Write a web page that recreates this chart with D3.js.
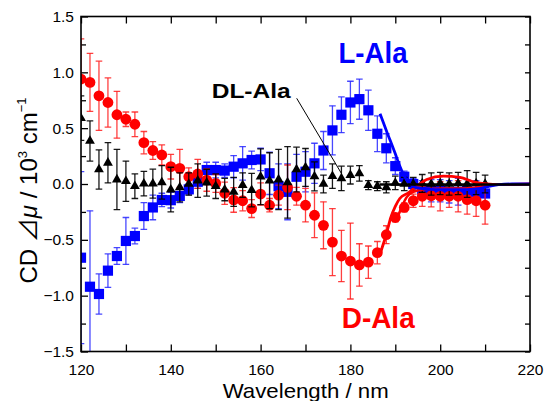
<!DOCTYPE html>
<html>
<head>
<meta charset="utf-8">
<script src="https://cdn.jsdelivr.net/npm/d3@7"></script>
<style>
	body { margin: 0; background: #fff; }
	text { font-family: "Liberation Sans", Arial, sans-serif; }
</style>
</head>
<body>
<div class="cd_chart"></div>
<script>
// wavelengths (nm) shared by all three measured series
var wavelengths = [120, 122, 124, 126, 128, 130, 132, 134, 136, 138,
	140, 142, 144, 146, 148, 150, 152, 154, 156, 158,
	160, 162, 164, 166, 168, 170, 172, 174, 176, 178,
	180, 182, 184, 186, 188, 190, 192, 194, 196, 198,
	200, 202, 204, 206, 208, 210];

// D-Ala (red circles)
var dAla = [0.94, 0.91, 0.79, 0.73, 0.62, 0.58, 0.535, 0.37, 0.30, 0.26,
	0.155, 0.14, 0.065, 0.09, 0.035, 0.005, -0.083, -0.143, -0.15, -0.22,
	-0.09, -0.19, -0.10, -0.03, -0.11, -0.19, -0.28, -0.37, -0.52, -0.645,
	-0.69, -0.725, -0.70, -0.615, -0.454, -0.30, -0.21, -0.15, -0.11, -0.105,
	-0.11, -0.11, -0.11, -0.14, -0.15, -0.19];
var dAlaErr = [0.36, 0.26, 0.31, 0.22, 0.21, 0.065, 0.11, 0.10, 0.08, 0.09,
	0.11, 0.17, 0.08, 0.13, 0.10, 0.08, 0.10, 0.11, 0.09, 0.08,
	0.10, 0.06, 0.09, 0.20, 0.08, 0.15, 0.20, 0.21, 0.30, 0.23,
	0.34, 0.19, 0.145, 0.10, 0.08, 0.04, 0.04, 0.06, 0.09, 0.10,
	0.13, 0.10, 0.14, 0.13, 0.14, 0.17];

// L-Ala (blue squares)
var lAla = [-0.66, -0.92, -0.985, -0.776, -0.645, -0.51, -0.466, -0.287, -0.21, -0.143,
	-0.145, -0.107, -0.048, 0.02, 0.125, 0.125, 0.12, 0.155, 0.185, 0.215,
	0.22, 0.096, -0.02, -0.07, 0.065, 0.11, 0.185, 0.30, 0.48, 0.62,
	0.73, 0.76, 0.66, 0.45, 0.32, 0.16, 0.065, 0.0, -0.05, -0.06,
	-0.06, -0.07, -0.07, -0.06, -0.07, -0.085];
var lAlaErr = [0.77, 0.68, 0.18, 0.15, 0.075, 0.21, 0.07, 0.12, 0.11, 0.06,
	0.07, 0.06, 0.05, 0.06, 0.07, 0.07, 0.06, 0.10, 0.15, 0.08,
	0.10, 0.19, 0.20, 0.25, 0.20, 0.18, 0.18, 0.17, 0.22, 0.16,
	0.19, 0.18, 0.18, 0.16, 0.13, 0.075, 0.05, 0.05, 0.08, 0.10,
	0.10, 0.10, 0.12, 0.10, 0.10, 0.08];

// DL-Ala (black triangles)
var dlAla = [0.59, 0.385, 0.13, 0.19, 0.04, 0.025, -0.02, 0.003, 0.003, 0.015,
	-0.05, -0.03, 0.0, 0.03, 0.012, -0.02, -0.05, -0.07, -0.01, -0.055,
	0.065, 0.03, 0.04, 0.015, 0.13, 0.148, 0.068, 0.0, 0.07, 0.05,
	0.08, 0.095, -0.01, -0.02, -0.03, 0.01, 0.0, 0.0, 0.005, 0.0,
	0.005, 0.0, 0.005, 0.0, 0.005, 0.0];
var dlAlaErr = [0.20, 0.18, 0.175, 0.18, 0.27, 0.18, 0.11, 0.11, 0.13, 0.15,
	0.20, 0.13, 0.10, 0.15, 0.12, 0.11, 0.10, 0.13, 0.11, 0.15,
	0.25, 0.25, 0.27, 0.32, 0.20, 0.17, 0.13, 0.08, 0.11, 0.11,
	0.08, 0.07, 0.04, 0.04, 0.05, 0.06, 0.06, 0.06, 0.08, 0.10,
	0.10, 0.10, 0.10, 0.12, 0.10, 0.08];

// calculated curves [wavelength, value]
var redFitUpper = [[186.4, -0.65], [188, -0.45], [189, -0.3], [190, -0.2], [191, -0.13],
	[192.9, -0.08], [194.8, -0.02], [197, 0.04], [200.7, 0.07], [204.4, 0.06],
	[207.4, 0.02], [210.4, 0.0], [213, -0.005], [220, 0.0]];
var redFitLower = [[190.5, -0.3], [191.5, -0.2], [192.5, -0.12], [194, -0.07], [197, -0.045],
	[201, -0.04], [205, -0.04], [209, -0.025], [212, -0.005], [220, 0.0]];
var blueFit = [[186.6, 0.63], [188, 0.48], [190, 0.27], [191, 0.16], [192, 0.07],
	[193, 0.01], [194.5, -0.03], [197, -0.045], [201, -0.05], [206, -0.05],
	[209, -0.04], [211, -0.02], [213, -0.005], [216, 0.0], [220, 0.0]];
var blackFit = [[186.5, -0.005], [220, -0.005]];

// axis ticks
var xLabelTicks = [120, 140, 160, 180, 200, 220];
var xTicks = [130, 150, 170, 190, 210];
var yLabelTicks = [-1.5, -1.0, -0.5, 0.0, 0.5, 1.0, 1.5];
var yMinorTicks = [-1.25, -0.75, -0.25, 0.25, 0.75, 1.25];

var width = 553,
	height = 401;
var margin = {top: 16.5, right: 23, bottom: 49.5, left: 81};

var svg = d3.select(".cd_chart").append("svg")
	.attr("width", width)
	.attr("height", height);

var x = d3.scaleLinear().domain([120, 220]).range([margin.left, width - margin.right]);
var y = d3.scaleLinear().domain([-1.5, 1.5]).range([height - margin.bottom, margin.top]);

var fmt = d3.format(".1f");

// axes, ticks pointing inwards
function strip(g) { g.select(".domain").remove(); }

svg.append("g")
	.attr("transform", "translate(0," + y(-1.5) + ")")
	.call(d3.axisBottom(x).tickValues(xLabelTicks.concat(xTicks)).tickSize(-7).tickPadding(12)
		.tickFormat(function(d) { return xLabelTicks.indexOf(d) >= 0 ? d : ""; }))
	.call(strip)
	.selectAll("text").attr("font-size", 15.5).attr("fill", "#000")
	.attr("font-family", "Liberation Sans, Arial, sans-serif");

svg.append("g")
	.attr("transform", "translate(0," + y(1.5) + ")")
	.call(d3.axisTop(x).tickValues(xLabelTicks.concat(xTicks)).tickSize(-7).tickFormat(""))
	.call(strip);

svg.append("g")
	.attr("transform", "translate(" + x(120) + ",0)")
	.call(d3.axisLeft(y).tickValues(yLabelTicks).tickSize(-7).tickPadding(7).tickFormat(fmt))
	.call(strip)
	.selectAll("text").attr("font-size", 15.5).attr("fill", "#000")
	.attr("font-family", "Liberation Sans, Arial, sans-serif");

svg.append("g")
	.attr("transform", "translate(" + x(120) + ",0)")
	.call(d3.axisLeft(y).tickValues(yMinorTicks).tickSize(-5).tickFormat(""))
	.call(strip);

svg.append("g")
	.attr("transform", "translate(" + x(220) + ",0)")
	.call(d3.axisRight(y).tickValues(yLabelTicks.concat(yMinorTicks)).tickSize(-5).tickFormat(""))
	.call(strip);

svg.selectAll(".tick line").attr("stroke", "#000").attr("stroke-width", 1.3);

// clip region for data
svg.append("clipPath").attr("id", "plotclip")
	.append("rect")
	.attr("x", x(120)).attr("y", y(1.5))
	.attr("width", x(220) - x(120)).attr("height", y(-1.5) - y(1.5));

var plot = svg.append("g").attr("clip-path", "url(#plotclip)");

function drawErrors(vals, errs, color) {
	var g = plot.append("g").attr("stroke", color).attr("stroke-width", 1.3).attr("fill", "none");
	wavelengths.forEach(function(w, i) {
		var cx = x(w), top = y(vals[i] + errs[i]), bot = y(vals[i] - errs[i]);
		g.append("line").attr("x1", cx).attr("x2", cx).attr("y1", top).attr("y2", bot);
		g.append("line").attr("x1", cx - 3.3).attr("x2", cx + 3.3).attr("y1", top).attr("y2", top);
		g.append("line").attr("x1", cx - 3.3).attr("x2", cx + 3.3).attr("y1", bot).attr("y2", bot);
	});
}

// L-Ala
drawErrors(lAla, lAlaErr, "rgba(40,40,255,0.85)");
plot.append("g").selectAll("rect")
	.data(wavelengths).enter()
	.append("rect")
	.attr("x", function(d) { return x(d) - 5.1; })
	.attr("y", function(d, i) { return y(lAla[i]) - 5.1; })
	.attr("width", 10.2).attr("height", 10.2)
	.attr("fill", "#0000ff");

// D-Ala
drawErrors(dAla, dAlaErr, "rgba(255,30,30,0.85)");
plot.append("g").selectAll("circle")
	.data(wavelengths).enter()
	.append("circle")
	.attr("cx", function(d) { return x(d); })
	.attr("cy", function(d, i) { return y(dAla[i]); })
	.attr("r", 5.4)
	.attr("fill", "#ff0000");

// DL-Ala
drawErrors(dlAla, dlAlaErr, "rgba(0,0,0,0.9)");
var tri = d3.symbol().type(d3.symbolTriangle).size(42);
plot.append("g").selectAll("path")
	.data(wavelengths).enter()
	.append("path")
	.attr("d", tri)
	.attr("transform", function(d, i) { return "translate(" + x(d) + "," + y(dlAla[i]) + ")"; })
	.attr("fill", "#000");

// calculated curves
var line = d3.line()
	.x(function(d) { return x(d[0]); })
	.y(function(d) { return y(d[1]); })
	.curve(d3.curveMonotoneX);

plot.append("path").attr("d", line(redFitLower)).attr("fill", "none").attr("stroke", "#ff0000").attr("stroke-width", 2.6);
plot.append("path").attr("d", line(redFitUpper)).attr("fill", "none").attr("stroke", "#ff0000").attr("stroke-width", 2.8);
plot.append("path").attr("d", line(blueFit)).attr("fill", "none").attr("stroke", "#0000ff").attr("stroke-width", 2.8);
plot.append("path").attr("d", line(blackFit)).attr("fill", "none").attr("stroke", "#000").attr("stroke-width", 2.6);

// frame
svg.append("rect")
	.attr("x", x(120)).attr("y", y(1.5))
	.attr("width", x(220) - x(120)).attr("height", y(-1.5) - y(1.5))
	.attr("fill", "none").attr("stroke", "#000").attr("stroke-width", 1.6);

// labels for the series
svg.append("text")
	.attr("x", 338.5).attr("y", 63.3)
	.attr("font-size", 30).attr("font-weight", "bold").attr("fill", "#0000ff")
	.attr("textLength", 69).attr("lengthAdjust", "spacingAndGlyphs")
	.text("L-Ala");

svg.append("text")
	.attr("x", 341.7).attr("y", 328.3)
	.attr("font-size", 30).attr("font-weight", "bold").attr("fill", "#ff0000")
	.attr("textLength", 73).attr("lengthAdjust", "spacingAndGlyphs")
	.text("D-Ala");

svg.append("text")
	.attr("x", 211.7).attr("y", 98.3)
	.attr("font-size", 21).attr("font-weight", "bold").attr("fill", "#000")
	.attr("textLength", 79).attr("lengthAdjust", "spacingAndGlyphs")
	.text("DL-Ala");

// pointer from the DL-Ala label to its data
svg.append("line")
	.attr("x1", 296.7).attr("y1", 98.3)
	.attr("x2", x(178)).attr("y2", y(0.095))
	.attr("stroke", "#000").attr("stroke-width", 1);

// axis titles
svg.append("text")
	.attr("x", 222.7).attr("y", 397.8)
	.attr("font-size", 21).attr("fill", "#000")
	.attr("textLength", 166).attr("lengthAdjust", "spacingAndGlyphs")
	.text("Wavelength / nm");

var yt = svg.append("text")
	.attr("transform", "translate(37,190.5) rotate(-90)")
	.attr("text-anchor", "middle")
	.attr("font-size", 24).attr("fill", "#000");
yt.append("tspan").text("CD ");
yt.append("tspan").attr("font-family", "Noto Sans CJK JP, DejaVu Sans, sans-serif").text("\u22bf");
yt.append("tspan").attr("font-style", "italic").text("\u03bc");
yt.append("tspan").text("  /  10");
yt.append("tspan").attr("font-size", 13).attr("dy", -10).text("3");
yt.append("tspan").attr("dy", 10).text(" cm");
yt.append("tspan").attr("font-size", 13).attr("dy", -11).text("\u22121");
</script>
</body>
</html>
